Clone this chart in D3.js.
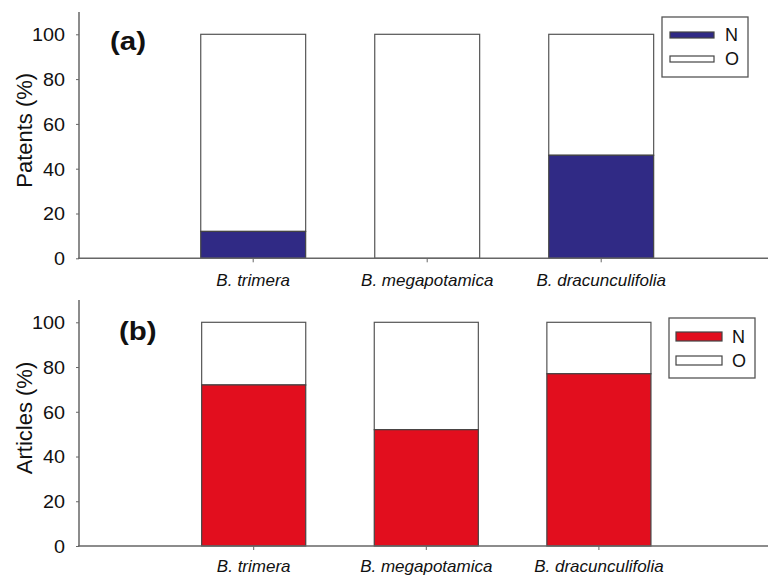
<!DOCTYPE html>
<html><head><meta charset="utf-8">
<script src="https://cdn.jsdelivr.net/npm/d3@7"></script>
<style>body{margin:0;background:#fff}svg{display:block}text{font-family:Arial,"Liberation Sans",sans-serif}</style>
</head><body>
<svg id="c" width="768" height="578"></svg>
<script>
const categories = ["B. trimera", "B. megapotamica", "B. dracunculifolia"];
const patentsN = [12, 0, 46];
const articlesN = [72, 52, 77];
const yTicks = [0, 20, 40, 60, 80, 100];
const legendLabels = ["N", "O"];

const svg = d3.select("#c");
const panels = [
  {label:"(a)", ylab:"Patents (%)", values:patentsN, color:"#302a85", y0:258.3, y1:34.3, xr:[166.2,688.2],
   labPos:[110,50], leg:{x:662,y:17,w:86,h:60,sx:670,sw:44,sh:6,r1:35,r2:59,tx:725}, xlabY:286},
  {label:"(b)", ylab:"Articles (%)", values:articlesN, color:"#e20e1e", y0:546, y1:322.3, xr:[167.4,685.2],
   labPos:[119,340], leg:{x:669,y:318,w:86,h:60,sx:676,sw:46,sh:9,r1:336.5,r2:360.5,tx:732}, xlabY:572}
];
const axisColor = "#666";
panels.forEach(p => {
  const g = svg.append("g");
  const y = d3.scaleLinear().domain([0,100]).range([p.y0, p.y1]);
  const x = d3.scaleBand().domain(categories).range(p.xr).paddingInner(0.397).paddingOuter(0.1985);
  categories.forEach((c,i) => {
    g.append("rect").attr("x", x(c)).attr("width", x.bandwidth())
      .attr("y", y(100)).attr("height", y(p.values[i]) - y(100))
      .attr("fill", "#fff").attr("stroke", "#555").attr("stroke-width", 1.2);
    if (p.values[i] > 0)
      g.append("rect").attr("x", x(c)).attr("width", x.bandwidth())
        .attr("y", y(p.values[i])).attr("height", y(0) - y(p.values[i]))
        .attr("fill", p.color).attr("stroke", "#444").attr("stroke-width", 1.2);
  });
  const ya = d3.axisLeft(y).tickValues(yTicks).tickSize(3).tickPadding(11);
  const yg = g.append("g").attr("transform","translate(79,0)").call(ya);
  yg.select(".domain").remove();
  yg.selectAll("line").attr("stroke", axisColor);
  yg.selectAll("text").attr("font-size", 18).attr("fill","#111").attr("dy","0.35em")
    .attr("x", -14/1.1).attr("transform","scale(1.1,1)");
  g.append("line").attr("x1",79).attr("x2",79).attr("y1", y(110)).attr("y2", p.y0+0.5)
    .attr("stroke", axisColor).attr("stroke-width", 1.5);
  g.append("line").attr("x1",78).attr("x2",768).attr("y1",p.y0).attr("y2",p.y0)
    .attr("stroke", axisColor).attr("stroke-width", 1.5);
  categories.forEach(c => {
    const cx = x(c) + x.bandwidth()/2;
    g.append("line").attr("x1",cx).attr("x2",cx).attr("y1",p.y0).attr("y2",p.y0+4).attr("stroke",axisColor);
    g.append("text").attr("x",cx).attr("y",p.xlabY).attr("text-anchor","middle")
      .attr("font-size",17).attr("font-style","italic").attr("fill","#111").text(c);
  });
  g.append("text").attr("transform",`translate(32,${p.y0 - 128}) rotate(-90)`)
    .attr("text-anchor","middle").attr("font-size",22).attr("fill","#111").text(p.ylab);
  g.append("text").attr("transform",`translate(${p.labPos[0]},${p.labPos[1]}) scale(1.18,1)`)
    .attr("font-size",25).attr("font-weight","bold").attr("fill","#111").text(p.label);
  const L = p.leg;
  g.append("rect").attr("x",L.x).attr("y",L.y).attr("width",L.w).attr("height",L.h)
    .attr("fill","#fff").attr("stroke","#555").attr("stroke-width",1.3);
  [[p.color, L.r1, legendLabels[0]], ["#fff", L.r2, legendLabels[1]]].forEach(([col, cy, t]) => {
    g.append("rect").attr("x",L.sx).attr("y",cy - L.sh/2).attr("width",L.sw).attr("height",L.sh)
      .attr("fill",col).attr("stroke","#444").attr("stroke-width",1.2);
    g.append("text").attr("x",L.tx).attr("y",cy).attr("dy","0.36em").attr("font-size",18)
      .attr("fill","#111").text(t);
  });
});
</script>
</body></html>
